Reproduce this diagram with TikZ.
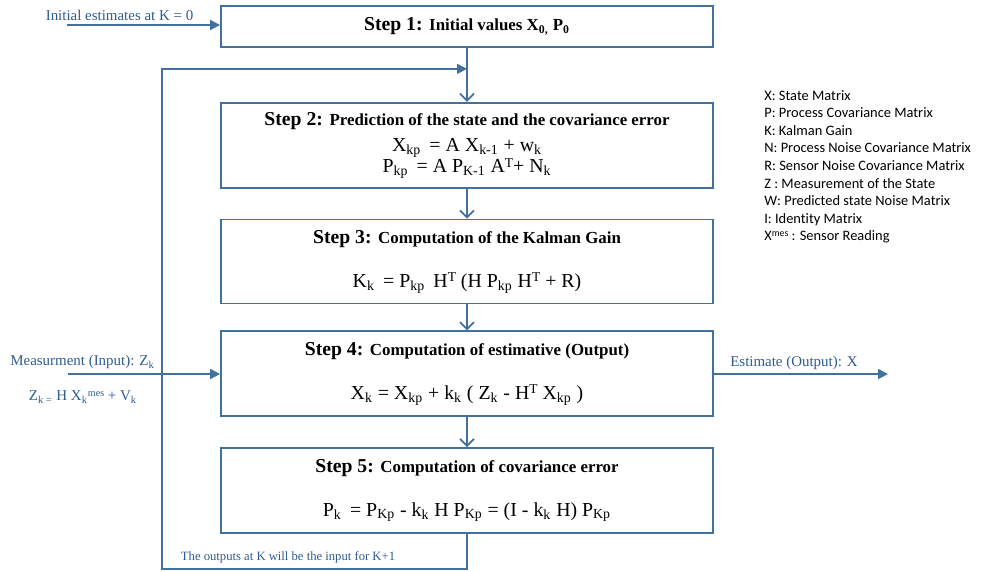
\documentclass[tikz,border=0pt]{standalone}
\usepackage{fontspec}
\setmainfont{Liberation Serif}
\newfontfamily\legendfont[Ligatures=NoCommon]{Carlito}
\usepackage{xcolor}
\usetikzlibrary{positioning, arrows.meta, calc}

\definecolor{flowblue}{HTML}{41719C}
\definecolor{textblue}{HTML}{2F5B8E}
\newcommand{\idx}[1]{\textsubscript{#1}}
\newcommand{\pow}[1]{\raisebox{0.6ex}{\scalebox{0.68}{#1}}}
\newcommand{\stepname}[2]{{\fontsize{11.2}{13}\selectfont\bfseries #1} {\fontsize{9.6}{12}\selectfont\bfseries #2}}

\begin{document}
\begin{tikzpicture}[
    stepbox/.style={rectangle, draw=flowblue, line width=1pt, minimum width=9.84cm, align=center, inner sep=0pt, font=\fontsize{11.3}{13}\selectfont},
    flow/.style={draw=flowblue, line width=1pt, -{Straight Barb[length=1.4mm, width=2.8mm]}},
    feed/.style={draw=flowblue, line width=1pt, -{Triangle[length=2mm, width=2mm]}},
    bluetext/.style={text=textblue, font=\fontsize{8.5}{10}\selectfont, inner sep=0pt}
]
\useasboundingbox (0,0) rectangle (19.78,-11.42);

% the five steps
\node[stepbox, minimum height=0.82cm](step1) at (9.34,-0.53){\stepname{Step 1:}{Initial values X\idx{0,} P\idx{0}}};
\node[stepbox, minimum height=1.7cm, below=1.08cm of step1](step2){\stepname{Step 2:}{Prediction of the state and the covariance error}\\[2pt]
    X\idx{kp} \,= A X\idx{k-1} + w\idx{k}\\[-1pt]
    P\idx{kp} \,= A P\idx{K-1} A\pow{T}+ N\idx{k}};
\node[stepbox, minimum height=1.68cm, below=0.6cm of step2](step3){\stepname{Step 3:}{Computation of the Kalman Gain}\\[12pt]
    K\idx{k} \,= P\idx{kp} \,H\pow{T} (H P\idx{kp} H\pow{T} + R)};
\node[stepbox, minimum height=1.7cm, below=0.52cm of step3](step4){\stepname{Step 4:}{Computation of estimative (Output)}\\[12pt]
    X\idx{k} = X\idx{kp} + k\idx{k} ( Z\idx{k} - H\pow{T} X\idx{kp} )};
\node[stepbox, minimum height=1.7cm, below=0.6cm of step4](step5){\stepname{Step 5:}{Computation of covariance error}\\[12pt]
    P\idx{k} \,= P\idx{Kp} - k\idx{k} H P\idx{Kp} = (I - k\idx{k} H) P\idx{Kp}};

\draw[flow] (step1) -- (step2);
\draw[flow] (step2) -- (step3);
\draw[flow] (step3) -- (step4);
\draw[flow] (step4) -- (step5);

% inputs and output
\coordinate (init) at (1.34,-0.5);
\coordinate (meas) at (1.36,-7.48);
\coordinate (est) at (17.76,-7.48);
\draw[feed] (init) -- (init -| step1.west);
\draw[feed] (meas) -- (meas -| step4.west);
\draw[feed] (meas -| step4.east) -- (est);
\node[bluetext](initlabel) at (2.39,-0.30){Initial estimates at K = 0};
\node[bluetext](measlabel) at (1.65,-7.24){Measurment (Input): Z\idx{k}};
\node[bluetext](measeq) at (1.66,-7.94){Z\idx{k =} H X\idx{k}\pow{mes} + V\idx{k}};
\node[bluetext](estlabel) at (15.88,-7.26){Estimate (Output): X};

% loop back to step 2
\coordinate (join) at ([yshift=-0.42cm]step1.south);
\coordinate (corner) at (3.24,-11.38);
\draw[feed] (step5.south) |- (corner) |- (join);
\node[bluetext, font=\fontsize{7.2}{9}\selectfont](looplabel) at (5.76,-11.15){The outputs at K will be the input for K+1};

% legend
\node[anchor=north west, align=left, inner sep=0pt, font=\legendfont\fontsize{8.2}{10}\selectfont](legend) at (15.28,-1.8){X: State Matrix\\
    P: Process Covariance Matrix\\
    K: Kalman Gain\\
    N: Process Noise Covariance Matrix\\
    R: Sensor Noise Covariance Matrix\\
    Z : Measurement of the State\\
    W: Predicted state Noise Matrix\\
    I: Identity Matrix\\
    X\pow{mes} : Sensor Reading};
\end{tikzpicture}
\end{document}
